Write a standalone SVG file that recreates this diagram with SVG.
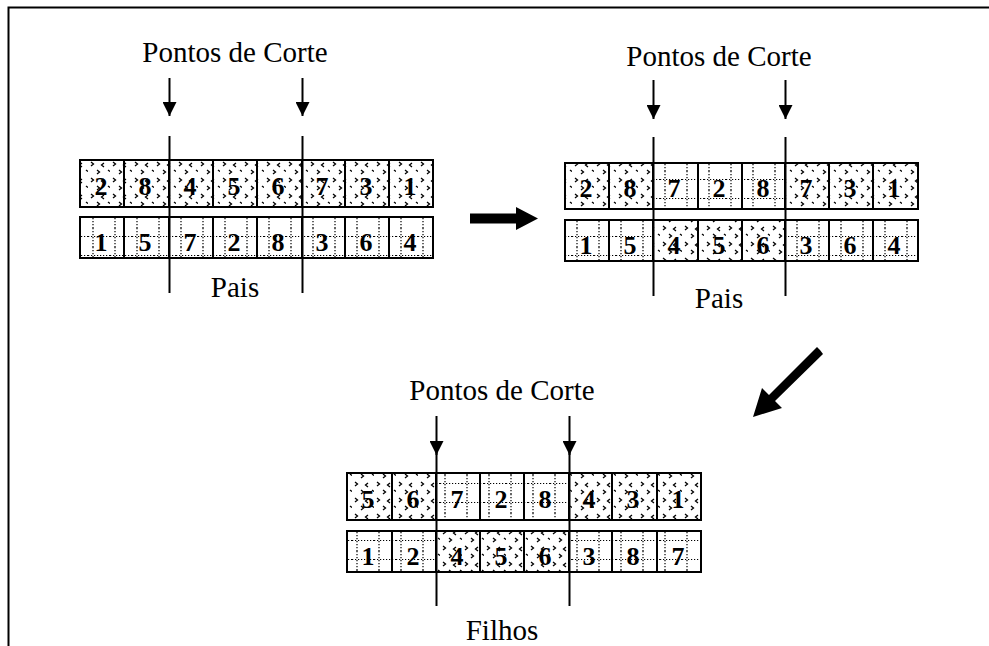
<svg xmlns="http://www.w3.org/2000/svg" width="989" height="646" viewBox="0 0 989 646">
  <style>
    .lbl { font-family: "Liberation Serif", "Times New Roman", Times, "DejaVu Serif", serif; font-size: 29px; fill: #000; text-anchor: middle; }
    .num { font-family: "Liberation Serif", "Times New Roman", Times, "DejaVu Serif", serif; font-size: 26px; font-weight: bold; fill: #000; text-anchor: middle; }
    .cell { stroke: #000; stroke-width: 2; }
    .cut { stroke: #000; stroke-width: 2; fill: none; }
  </style>
  <defs>
    <!-- scattered chevron texture -->
    <pattern id="chev" patternUnits="userSpaceOnUse" width="22" height="16">
      <rect width="22" height="16" fill="#fff"/>
      <g stroke="#000" stroke-width="1.3" fill="none">
        <path d="M3,2 l2.5,2 l-2.5,2"/>
        <path d="M16,3 l-2.5,2 l2.5,2"/>
        <path d="M9,10 l2.5,2 l-2.5,2"/>
        <path d="M20,10 l2,1.6"/>
      </g>
    </pattern>
    <!-- dotted grid texture -->
    <pattern id="grid" patternUnits="userSpaceOnUse" width="22" height="19">
      <rect width="22" height="19" fill="#fff"/>
      <g stroke="#000" stroke-width="1.2" stroke-dasharray="1.2 1.8" fill="none">
        <line x1="5" y1="0" x2="5" y2="19"/>
        <line x1="0" y1="8.5" x2="22" y2="8.5"/>
      </g>
    </pattern>
    <marker id="tip" viewBox="0 0 14 14" refX="14" refY="7" markerWidth="14" markerHeight="14" markerUnits="userSpaceOnUse" orient="auto">
      <path d="M0,0 L14,7 L0,14 Z" fill="#000"/>
    </marker>
  </defs>

  <rect width="989" height="646" fill="#fff"/>

  <!-- outer frame (left and top edges) -->
  <path d="M8.5,646 V7.5 H989" fill="none" stroke="#000" stroke-width="2"/>

  <!-- parents, before crossover -->
  <g id="parents-before">
    <text class="lbl" x="235" y="62">Pontos de Corte</text>
    <g id="p1-row">
      <rect class="cell" x="80" y="160" width="44" height="47" fill="url(#chev)"/>
      <rect class="cell" x="124" y="160" width="45" height="47" fill="url(#chev)"/>
      <rect class="cell" x="169" y="160" width="44" height="47" fill="url(#chev)"/>
      <rect class="cell" x="213" y="160" width="44" height="47" fill="url(#chev)"/>
      <rect class="cell" x="257" y="160" width="45" height="47" fill="url(#chev)"/>
      <rect class="cell" x="302" y="160" width="43" height="47" fill="url(#chev)"/>
      <rect class="cell" x="345" y="160" width="44" height="47" fill="url(#chev)"/>
      <rect class="cell" x="389" y="160" width="44" height="47" fill="url(#chev)"/>
      <text class="num" x="101" y="195">2</text>
      <text class="num" x="145" y="195">8</text>
      <text class="num" x="190" y="195">4</text>
      <text class="num" x="234" y="195">5</text>
      <text class="num" x="278" y="195">6</text>
      <text class="num" x="322" y="195">7</text>
      <text class="num" x="366" y="195">3</text>
      <text class="num" x="410" y="195">1</text>
    </g>
    <g id="p2-row">
      <rect class="cell" x="80" y="217" width="44" height="41" fill="url(#grid)"/>
      <rect class="cell" x="124" y="217" width="45" height="41" fill="url(#grid)"/>
      <rect class="cell" x="169" y="217" width="44" height="41" fill="url(#grid)"/>
      <rect class="cell" x="213" y="217" width="44" height="41" fill="url(#grid)"/>
      <rect class="cell" x="257" y="217" width="45" height="41" fill="url(#grid)"/>
      <rect class="cell" x="302" y="217" width="43" height="41" fill="url(#grid)"/>
      <rect class="cell" x="345" y="217" width="44" height="41" fill="url(#grid)"/>
      <rect class="cell" x="389" y="217" width="44" height="41" fill="url(#grid)"/>
      <text class="num" x="101" y="251">1</text>
      <text class="num" x="145" y="251">5</text>
      <text class="num" x="190" y="251">7</text>
      <text class="num" x="234" y="251">2</text>
      <text class="num" x="278" y="251">8</text>
      <text class="num" x="322" y="251">3</text>
      <text class="num" x="366" y="251">6</text>
      <text class="num" x="410" y="251">4</text>
    </g>
    <text class="lbl" x="235" y="297">Pais</text>
  </g>

  <!-- parents, middle segments swapped -->
  <g id="parents-after">
    <text class="lbl" x="719" y="66">Pontos de Corte</text>
    <g id="p1-swapped">
      <rect class="cell" x="565" y="163" width="44" height="46" fill="url(#chev)"/>
      <rect class="cell" x="609" y="163" width="44" height="46" fill="url(#chev)"/>
      <rect class="cell" x="653" y="163" width="45" height="46" fill="url(#grid)"/>
      <rect class="cell" x="698" y="163" width="44" height="46" fill="url(#grid)"/>
      <rect class="cell" x="742" y="163" width="43" height="46" fill="url(#grid)"/>
      <rect class="cell" x="785" y="163" width="44" height="46" fill="url(#chev)"/>
      <rect class="cell" x="829" y="163" width="44" height="46" fill="url(#chev)"/>
      <rect class="cell" x="873" y="163" width="45" height="46" fill="url(#chev)"/>
      <text class="num" x="586" y="197">2</text>
      <text class="num" x="630" y="197">8</text>
      <text class="num" x="674" y="197">7</text>
      <text class="num" x="719" y="197">2</text>
      <text class="num" x="763" y="197">8</text>
      <text class="num" x="806" y="197">7</text>
      <text class="num" x="850" y="197">3</text>
      <text class="num" x="894" y="197">1</text>
    </g>
    <g id="p2-swapped">
      <rect class="cell" x="565" y="220" width="44" height="41" fill="url(#grid)"/>
      <rect class="cell" x="609" y="220" width="44" height="41" fill="url(#grid)"/>
      <rect class="cell" x="653" y="220" width="45" height="41" fill="url(#chev)"/>
      <rect class="cell" x="698" y="220" width="44" height="41" fill="url(#chev)"/>
      <rect class="cell" x="742" y="220" width="43" height="41" fill="url(#chev)"/>
      <rect class="cell" x="785" y="220" width="44" height="41" fill="url(#grid)"/>
      <rect class="cell" x="829" y="220" width="44" height="41" fill="url(#grid)"/>
      <rect class="cell" x="873" y="220" width="45" height="41" fill="url(#grid)"/>
      <text class="num" x="586" y="254">1</text>
      <text class="num" x="630" y="254">5</text>
      <text class="num" x="674" y="254">4</text>
      <text class="num" x="719" y="254">5</text>
      <text class="num" x="763" y="254">6</text>
      <text class="num" x="806" y="254">3</text>
      <text class="num" x="850" y="254">6</text>
      <text class="num" x="894" y="254">4</text>
    </g>
    <text class="lbl" x="719" y="308">Pais</text>
  </g>

  <!-- offspring -->
  <g id="children">
    <text class="lbl" x="502" y="400">Pontos de Corte</text>
    <g id="c1-row">
      <rect class="cell" x="347" y="473" width="45" height="47" fill="url(#chev)"/>
      <rect class="cell" x="392" y="473" width="44" height="47" fill="url(#chev)"/>
      <rect class="cell" x="436" y="473" width="44" height="47" fill="url(#grid)"/>
      <rect class="cell" x="480" y="473" width="44" height="47" fill="url(#grid)"/>
      <rect class="cell" x="524" y="473" width="45" height="47" fill="url(#grid)"/>
      <rect class="cell" x="569" y="473" width="43" height="47" fill="url(#chev)"/>
      <rect class="cell" x="612" y="473" width="45" height="47" fill="url(#chev)"/>
      <rect class="cell" x="657" y="473" width="44" height="47" fill="url(#chev)"/>
      <text class="num" x="368" y="508">5</text>
      <text class="num" x="413" y="508">6</text>
      <text class="num" x="457" y="508">7</text>
      <text class="num" x="501" y="508">2</text>
      <text class="num" x="545" y="508">8</text>
      <text class="num" x="589" y="508">4</text>
      <text class="num" x="633" y="508">3</text>
      <text class="num" x="678" y="508">1</text>
    </g>
    <g id="c2-row">
      <rect class="cell" x="347" y="531" width="45" height="41" fill="url(#grid)"/>
      <rect class="cell" x="392" y="531" width="44" height="41" fill="url(#grid)"/>
      <rect class="cell" x="436" y="531" width="44" height="41" fill="url(#chev)"/>
      <rect class="cell" x="480" y="531" width="44" height="41" fill="url(#chev)"/>
      <rect class="cell" x="524" y="531" width="45" height="41" fill="url(#chev)"/>
      <rect class="cell" x="569" y="531" width="43" height="41" fill="url(#grid)"/>
      <rect class="cell" x="612" y="531" width="45" height="41" fill="url(#grid)"/>
      <rect class="cell" x="657" y="531" width="44" height="41" fill="url(#grid)"/>
      <text class="num" x="368" y="565">1</text>
      <text class="num" x="413" y="565">2</text>
      <text class="num" x="457" y="565">4</text>
      <text class="num" x="501" y="565">5</text>
      <text class="num" x="545" y="565">6</text>
      <text class="num" x="589" y="565">3</text>
      <text class="num" x="633" y="565">8</text>
      <text class="num" x="678" y="565">7</text>
    </g>
    <text class="lbl" x="502" y="640">Filhos</text>
  </g>

  <!-- cut points and flow arrows -->
  <g id="connectors">
    <line class="cut" x1="169.5" y1="78" x2="169.5" y2="116" marker-end="url(#tip)"/>
    <line class="cut" x1="302.5" y1="78" x2="302.5" y2="116" marker-end="url(#tip)"/>
    <line class="cut" x1="169.5" y1="136" x2="169.5" y2="293"/>
    <line class="cut" x1="302.5" y1="136" x2="302.5" y2="293"/>

    <line class="cut" x1="653.5" y1="80" x2="653.5" y2="119" marker-end="url(#tip)"/>
    <line class="cut" x1="785.5" y1="80" x2="785.5" y2="119" marker-end="url(#tip)"/>
    <line class="cut" x1="653.5" y1="137" x2="653.5" y2="296"/>
    <line class="cut" x1="785.5" y1="137" x2="785.5" y2="296"/>

    <line class="cut" x1="436.5" y1="416" x2="436.5" y2="455" marker-end="url(#tip)"/>
    <line class="cut" x1="569.5" y1="416" x2="569.5" y2="455" marker-end="url(#tip)"/>
    <line class="cut" x1="436.5" y1="447" x2="436.5" y2="606"/>
    <line class="cut" x1="569.5" y1="447" x2="569.5" y2="606"/>

    <path d="M470,213.5 H516 V207 L538,218.5 L516,230 V223.5 H470 Z" fill="#000"/>
    <path d="M820,350 L823,354 L775,401 L782,408 L753,417 L762,388 L769,395 L817,347 Z" fill="#000"/>
  </g>
</svg>
